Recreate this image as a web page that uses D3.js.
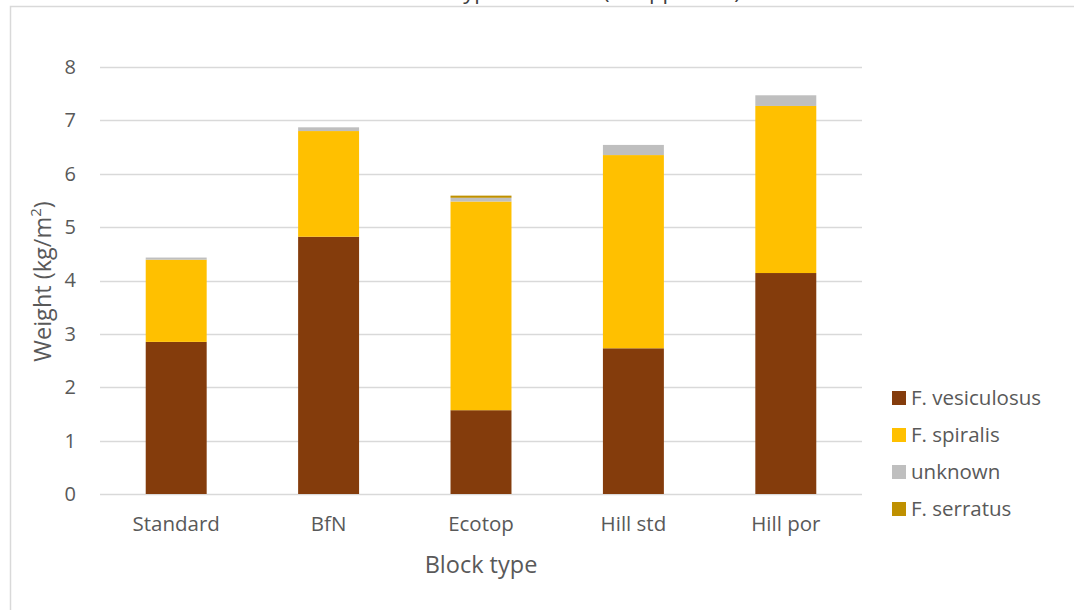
<!DOCTYPE html>
<html>
<head>
<meta charset="utf-8">
<script src="https://cdn.jsdelivr.net/npm/d3@7"></script>
<style>
  html, body { margin: 0; padding: 0; background: #fff; }
  svg { display: block; font-family: "Open Sans", "Noto Sans", sans-serif; }
</style>
</head>
<body>
<svg id="chart" width="1074" height="610"></svg>
<script>
// Block types along the x axis
const blockTypes = ["Standard", "BfN", "Ecotop", "Hill std", "Hill por"];

// Stacked species weights (kg/m²), bottom to top
const vesiculosus = [2.85, 4.82, 1.57, 2.73, 4.14];
const spiralis    = [1.54, 1.98, 3.91, 3.62, 3.13];
const unknown     = [0.04, 0.07, 0.07, 0.19, 0.20];
const serratus    = [0.00, 0.00, 0.04, 0.00, 0.00];

const seriesNames = ["F. vesiculosus", "F. spiralis", "unknown", "F. serratus"];
const seriesColors = ["#843C0C", "#FFC000", "#BFBFBF", "#BF9000"];
const yTicks = [0, 1, 2, 3, 4, 5, 6, 7, 8];

const seriesValues = [vesiculosus, spiralis, unknown, serratus];
const rows = blockTypes.map((b, i) => {
  const r = { block: b };
  seriesNames.forEach((s, j) => { r[s] = seriesValues[j][i]; });
  return r;
});

const svg = d3.select("#chart");
const textColor = "#595959";
const gridColor = "#D9D9D9";

// chart area frame (top and left edges)
svg.append("path")
  .attr("d", "M10.5,610 V6.5 H1074")
  .attr("fill", "none")
  .attr("stroke", gridColor)
  .attr("stroke-width", 1.5);

// chart title, running past the top of the frame
svg.append("text")
  .attr("x", 500).attr("y", -1)
  .attr("text-anchor", "end")
  .attr("font-size", 22)
  .attr("fill", "#404040")
  .text("Total Fucus biomass of each block type");
svg.append("text")
  .attr("x", 603).attr("y", -1)
  .attr("text-anchor", "start")
  .attr("font-size", 22)
  .attr("fill", "#404040")
  .text("(all spp. total)");

const x = d3.scaleBand()
  .domain(blockTypes)
  .range([100, 862])
  .paddingInner(0.6)
  .paddingOuter(0.3);

const y = d3.scaleLinear()
  .domain([0, 8])
  .range([494, 67]);

// gridlines
svg.append("g")
  .selectAll("line")
  .data(yTicks)
  .join("line")
  .attr("x1", 100).attr("x2", 862)
  .attr("y1", d => Math.round(y(d)) + 0.5)
  .attr("y2", d => Math.round(y(d)) + 0.5)
  .attr("stroke", gridColor)
  .attr("stroke-width", 1.3);

// y axis labels
const yAxis = svg.append("g")
  .attr("transform", "translate(100,0)")
  .call(d3.axisLeft(y).tickValues(yTicks).tickSize(0).tickPadding(24).tickFormat(d3.format("d")));
yAxis.select(".domain").remove();
yAxis.selectAll("text")
  .attr("font-size", 20)
  .attr("fill", textColor)
  .attr("font-family", "'Open Sans', sans-serif");

// x axis labels
const xAxis = svg.append("g")
  .attr("transform", "translate(0,494)")
  .call(d3.axisBottom(x).tickSize(0).tickPadding(22));
xAxis.select(".domain").remove();
xAxis.selectAll("text")
  .attr("font-size", 20.5)
  .attr("fill", textColor)
  .attr("font-family", "'Open Sans', sans-serif");

// stacked bars
const stack = d3.stack().keys(seriesNames);
const layers = stack(rows);
svg.append("g")
  .selectAll("g")
  .data(layers)
  .join("g")
  .attr("fill", (d, i) => seriesColors[i])
  .selectAll("rect")
  .data(d => d)
  .join("rect")
  .attr("x", d => x(d.data.block))
  .attr("width", x.bandwidth())
  .attr("y", d => y(d[1]))
  .attr("height", d => Math.max(0, y(d[0]) - y(d[1])));

// axis titles
svg.append("text")
  .attr("transform", `translate(51,${(y(0) + y(8)) / 2 + 1}) rotate(-90)`)
  .attr("text-anchor", "middle")
  .attr("font-size", 23.5)
  .attr("fill", textColor)
  .html('Weight (kg/m<tspan baseline-shift="super" font-size="15">2</tspan>)');

svg.append("text")
  .attr("x", (x.range()[0] + x.range()[1]) / 2)
  .attr("y", 573)
  .attr("text-anchor", "middle")
  .attr("font-size", 23.5)
  .attr("fill", textColor)
  .text("Block type");

// legend
const legend = svg.append("g")
  .selectAll("g")
  .data(seriesNames)
  .join("g")
  .attr("transform", (d, i) => `translate(892,${398 + i * 37})`);
legend.append("rect")
  .attr("x", 0).attr("y", -7)
  .attr("width", 14).attr("height", 14)
  .attr("fill", (d, i) => seriesColors[i]);
legend.append("text")
  .attr("x", 19).attr("y", 0)
  .attr("dy", "0.35em")
  .attr("font-size", 20.5)
  .attr("fill", textColor)
  .text(d => d);
</script>
</body>
</html>
